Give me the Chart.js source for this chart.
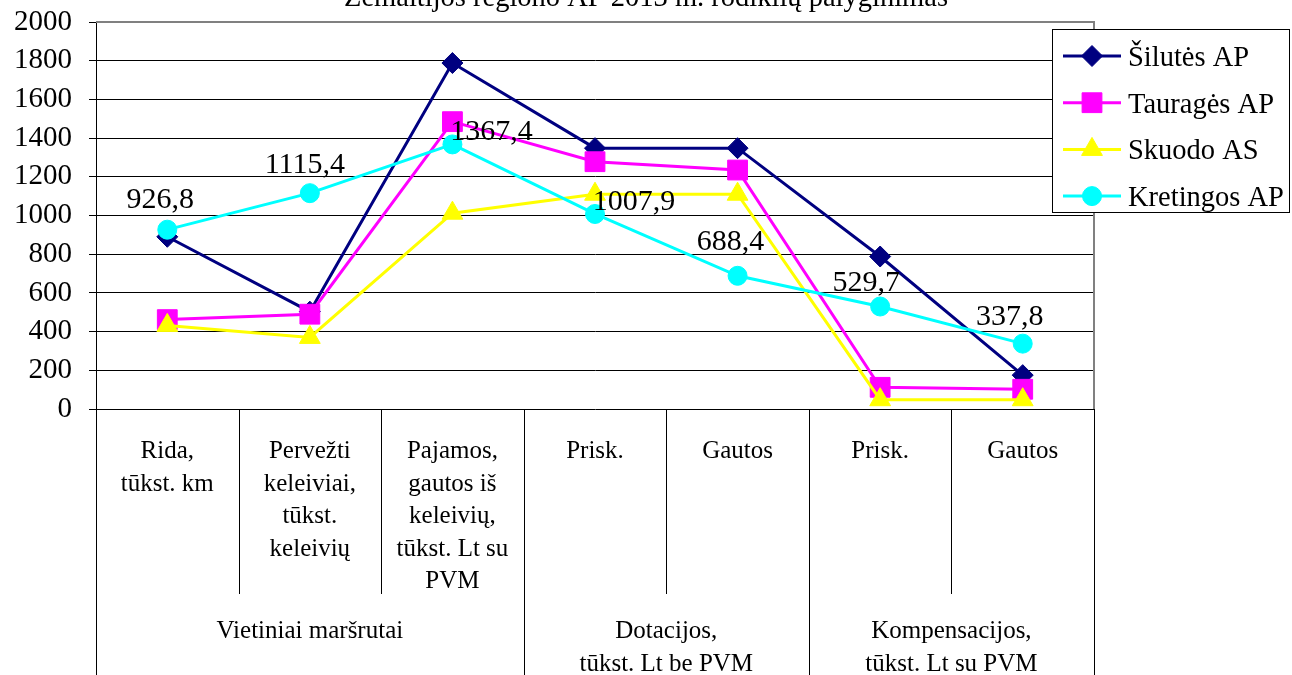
<!DOCTYPE html>
<html><head><meta charset="utf-8">
<script src="https://cdn.jsdelivr.net/npm/chart.js@4.4.1/dist/chart.umd.min.js"></script>
<style>html,body{margin:0;padding:0;background:#fff;overflow:hidden}#wrap{width:1292px;height:675px}</style>
</head><body><div id="wrap"><canvas id="c" width="1292" height="675"></canvas></div>
<script>
// ---- data ----
const titleText = 'Žemaitijos regiono AP 2013 m. rodiklių palyginimas';
const categories = [
  ['Rida,', 'tūkst. km'],
  ['Pervežti', 'keleiviai,', 'tūkst.', 'keleivių'],
  ['Pajamos,', 'gautos iš', 'keleivių,', 'tūkst. Lt su', 'PVM'],
  ['Prisk.'],
  ['Gautos'],
  ['Prisk.'],
  ['Gautos']
];
const groupLabels = [['Vietiniai maršrutai'], ['Dotacijos,', 'tūkst. Lt be PVM'], ['Kompensacijos,', 'tūkst. Lt su PVM']];
const groupSpans = [3, 2, 2];
const seriesNames = ['Šilutės AP', 'Tauragės AP', 'Skuodo AS', 'Kretingos AP'];
const siluteValues = [890, 503, 1788, 1348, 1348, 788, 175];
const taurageValues = [462, 490, 1485, 1278, 1235, 112, 102];
const skuodasValues = [432, 370, 1012, 1110, 1110, 48, 48];
const kretingaValues = [926.8, 1115.4, 1367.4, 1007.9, 688.4, 529.7, 337.8];
const yMin = 0, yMax = 2000, yStep = 200;
// label offsets for the Kretingos data labels (style)
const labelOffsets = [[-7, -32], [-5, -30], [39, -14], [39, -14], [-7, -36], [-14, -26], [-13, -29]];

const FONT = 'Liberation Serif, "Times New Roman", serif';
const colors = ['#000080', '#FF00FF', '#FFFF00', '#00FFFF'];
const pstyles = ['rectRot', 'rect', 'triangle', 'circle'];
const pradius = [10.5, 14, 12, 9.5];
const allValues = [siluteValues, taurageValues, skuodasValues, kretingaValues];

const datasets = seriesNames.map((n, i) => ({
  label: n,
  data: allValues[i],
  borderColor: colors[i],
  backgroundColor: colors[i],
  borderWidth: 3,
  pointStyle: pstyles[i],
  pointRadius: pradius[i],
  pointHoverRadius: pradius[i],
  pointBorderWidth: 1,
  pointBorderColor: colors[i],
  pointBackgroundColor: colors[i],
  tension: 0,
  order: 3 - i
}));

const whiteBg = {
  id: 'whiteBg',
  beforeDraw(chart) {
    const c = chart.ctx; c.save(); c.fillStyle = '#fff'; c.fillRect(0, 0, chart.width, chart.height); c.restore();
  }
};

const frame = {
  id: 'frame',
  beforeDatasetsDraw(chart) {
    const c = chart.ctx, a = chart.chartArea;
    c.save();
    c.strokeStyle = '#808080'; c.lineWidth = 2;
    c.beginPath();
    c.moveTo(a.left, a.top); c.lineTo(a.right, a.top); c.lineTo(a.right, a.bottom);
    c.stroke();
    c.restore();
  },
  afterDraw(chart) {
    const c = chart.ctx, a = chart.chartArea, xs = chart.scales.x;
    const px = categories.map((_, i) => xs.getPixelForValue(i));
    const half = (px[1] - px[0]) / 2;
    c.save();
    c.strokeStyle = '#000'; c.lineWidth = 1;
    let idx = 0;
    const bounds = [px[0] - half];
    groupSpans.forEach(s => { idx += s; bounds.push(px[idx - 1] + half); });
    bounds.forEach(b => {
      const x = Math.round(b) + 0.5;
      c.beginPath(); c.moveTo(x, a.bottom); c.lineTo(x, chart.height); c.stroke();
    });
    idx = 0;
    groupSpans.forEach(s => {
      for (let k = 1; k < s; k++) {
        const x = Math.round(px[idx + k] - half) + 0.5;
        c.beginPath(); c.moveTo(x, a.bottom); c.lineTo(x, a.bottom + 185); c.stroke();
      }
      idx += s;
    });
    c.fillStyle = '#000'; c.textAlign = 'center'; c.textBaseline = 'alphabetic';
    c.font = '25px ' + FONT;
    categories.forEach((lines, i) => {
      lines.forEach((t, j) => c.fillText(t, px[i], a.bottom + 49 + j * 32.5));
    });
    groupLabels.forEach((lines, g) => {
      const cx = (bounds[g] + bounds[g + 1]) / 2;
      lines.forEach((t, j) => c.fillText(t, cx, a.bottom + 229 + j * 33));
    });
    c.font = '28.5px ' + FONT;
    c.fillText(titleText, chart.width / 2, 6);
    c.restore();
  }
};

const dataLabels = {
  id: 'dataLabels',
  afterDatasetsDraw(chart) {
    const c = chart.ctx;
    const meta = chart.getDatasetMeta(3);
    c.save();
    c.fillStyle = '#000'; c.font = '30px ' + FONT; c.textAlign = 'center'; c.textBaseline = 'alphabetic';
    meta.data.forEach((pt, i) => {
      const v = kretingaValues[i];
      const t = v.toFixed(1).replace('.', ',');
      c.fillText(t, pt.x + labelOffsets[i][0], pt.y + labelOffsets[i][1] + 10);
    });
    c.restore();
  }
};

const boxLegend = {
  id: 'boxLegend',
  afterDraw(chart) {
    const c = chart.ctx;
    const L = 1052, T = 29, R = 1290, B = 213;
    c.save();
    c.fillStyle = '#fff'; c.fillRect(L, T, R - L, B - T);
    c.strokeStyle = '#000'; c.lineWidth = 1;
    c.strokeRect(L + 0.5, T + 0.5, R - L - 1, B - T - 1);
    c.font = '28.5px ' + FONT; c.textAlign = 'left'; c.textBaseline = 'alphabetic';
    chart.data.datasets.forEach((ds, i) => {
      const y = 56 + i * 46.7;
      c.strokeStyle = ds.borderColor; c.lineWidth = 3;
      c.beginPath(); c.moveTo(1063, y); c.lineTo(1121, y); c.stroke();
      c.fillStyle = ds.backgroundColor; c.strokeStyle = ds.borderColor; c.lineWidth = 1;
      Chart.helpers.drawPoint(c, { pointStyle: ds.pointStyle, radius: ds.pointRadius, rotation: 0, borderWidth: 1 }, 1092, y);
      c.fillStyle = '#000';
      c.fillText(ds.label, 1128, y + 10);
    });
    c.restore();
  }
};

new Chart(document.getElementById('c'), {
  type: 'line',
  data: { labels: categories, datasets },
  options: {
    responsive: false,
    devicePixelRatio: 1,
    animation: false,
    layout: { padding: { top: 22, right: 198, bottom: 266, left: 0 } },
    plugins: { legend: { display: false }, title: { display: false }, tooltip: { enabled: false } },
    scales: {
      x: { type: 'category', offset: true, display: false },
      y: {
        min: yMin, max: yMax,
        ticks: { stepSize: yStep, color: '#000', padding: 17, font: { family: FONT, size: 29 }, callback: v => String(v) },
        grid: {
          color: ctx => (ctx.tick && ctx.tick.value === yMax) ? 'rgba(0,0,0,0)' : '#000',
          tickColor: '#000', tickLength: 7, lineWidth: 1, drawTicks: true
        },
        border: { display: true, color: '#000', width: 1 },
        afterFit: s => { s.width = 96; s.paddingTop = 0; s.paddingBottom = 0; }
      }
    }
  },
  plugins: [whiteBg, frame, dataLabels, boxLegend]
});
</script>
</body></html>
